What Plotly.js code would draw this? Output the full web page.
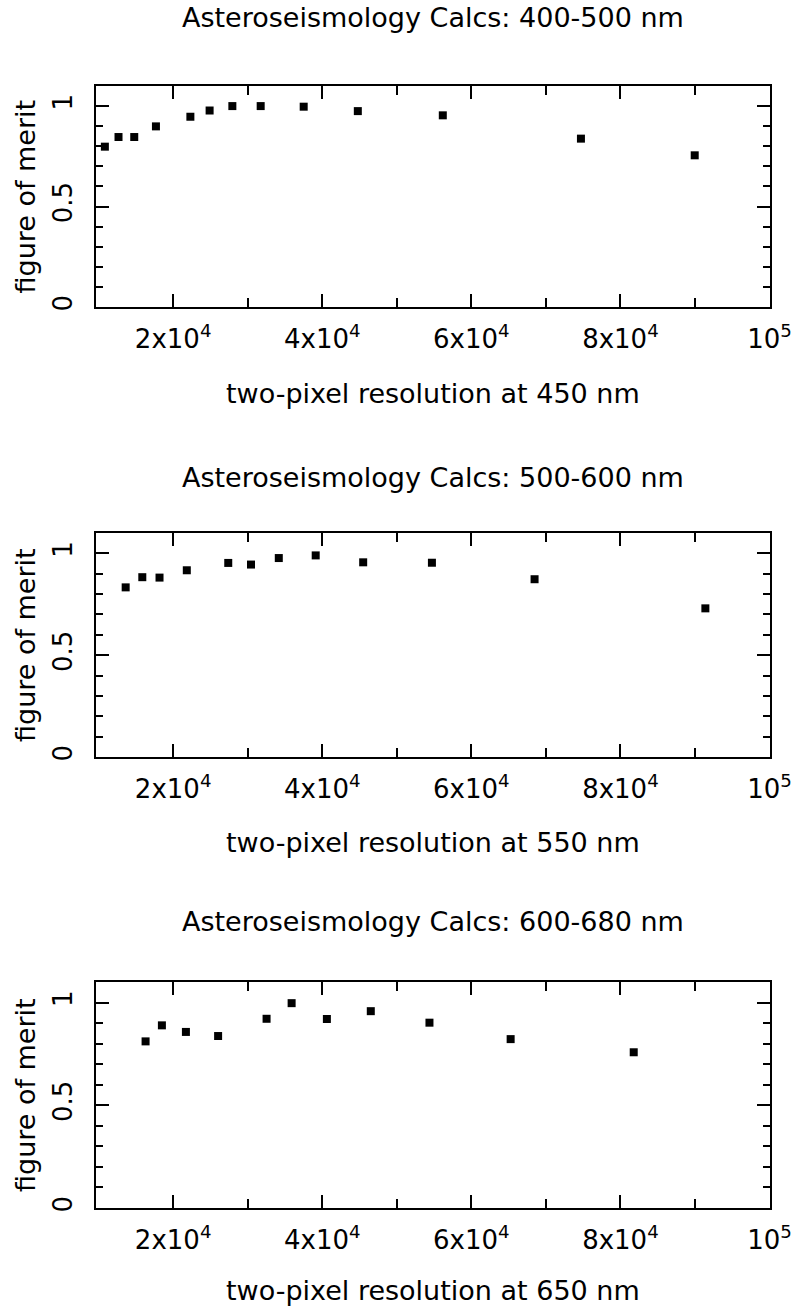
<!DOCTYPE html>
<html>
<head>
<meta charset="utf-8">
<script src="https://cdn.plot.ly/plotly-3.0.1.min.js"></script>
<style>html,body{margin:0;padding:0;background:#fff;}#chart{width:792px;height:1306px;}</style>
</head>
<body>
<div id="chart"></div>
<script>
// ---- data ----
const panelTitles = ["Asteroseismology Calcs: 400-500 nm", "Asteroseismology Calcs: 500-600 nm", "Asteroseismology Calcs: 600-680 nm"];
const xTitles = ["two-pixel resolution at 450 nm", "two-pixel resolution at 550 nm", "two-pixel resolution at 650 nm"];
const yTitle = "figure of merit";

const res450 = [10840, 12670, 14780, 17690, 22310, 24890, 27940, 31740, 37510, 44770, 56170, 74700, 89960];
const fom450 = [0.798, 0.846, 0.846, 0.899, 0.947, 0.978, 1.0, 1.0, 0.997, 0.975, 0.954, 0.838, 0.755];

const res550 = [13630, 15860, 18170, 21830, 27390, 30440, 34170, 39120, 45490, 54710, 68480, 91390];
const fom550 = [0.833, 0.883, 0.881, 0.917, 0.953, 0.945, 0.977, 0.990, 0.956, 0.954, 0.873, 0.730];

const res650 = [16300, 18490, 21710, 26030, 32530, 35890, 40620, 46510, 54380, 65270, 81780];
const fom650 = [0.811, 0.889, 0.857, 0.837, 0.921, 0.997, 0.920, 0.958, 0.902, 0.822, 0.758];

const xTickVals = [20000, 40000, 60000, 80000, 100000];
const xTickText = ["2x10<sup>4</sup>", "4x10<sup>4</sup>", "6x10<sup>4</sup>", "8x10<sup>4</sup>", "10<sup>5</sup>"];
const xMinorVals = [30000, 50000, 70000, 90000];
const yTickVals = [0, 0.5, 1];
const yTickText = ["0", "0.5", "1"];
const yMinorVals = [0.1, 0.2, 0.3, 0.4, 0.6, 0.7, 0.8, 0.9];

// ---- layout geometry (pixels) ----
const W = 792, H = 1306;
const FONT = "DejaVu Sans";
const plotLeft = 96, plotRight = 770;
const panels = [
  {top: 86, bottom: 307, title: 18, xt: 393},
  {top: 533, bottom: 757, title: 477, xt: 843},
  {top: 982, bottom: 1208, title: 921, xt: 1290}
];
const series = [[res450, fom450], [res550, fom550], [res650, fom650]];

const traces = [];
const layout = {
  width: W, height: H,
  margin: {l: 0, r: 0, t: 0, b: 0},
  paper_bgcolor: "#fff", plot_bgcolor: "#fff",
  showlegend: false,
  font: {family: FONT, color: "#000", size: 26},
  annotations: []
};

const px2x = p => p / W;
const px2y = p => 1 - p / H;
const cx = px2x((plotLeft + plotRight) / 2);

panels.forEach((p, i) => {
  const n = i === 0 ? "" : String(i + 1);
  traces.push({
    type: "scatter", mode: "markers",
    x: series[i][0], y: series[i][1],
    xaxis: "x" + n, yaxis: "y" + n,
    marker: {symbol: "square", size: 8, color: "#000"},
    hoverinfo: "x+y"
  });
  layout["xaxis" + n] = {
    domain: [px2x(plotLeft), px2x(plotRight)],
    anchor: "y" + n,
    range: [9650, 100060],
    showgrid: false, zeroline: false,
    showline: true, linecolor: "#000", linewidth: 2,
    mirror: "ticks",
    ticks: "inside", ticklen: 13, tickwidth: 2, tickcolor: "#000",
    tickmode: "array", tickvals: xTickVals, ticktext: xTickText,
    tickfont: {family: FONT, size: 26, color: "#000"},
    ticklabelstandoff: 8,
    minor: {tickmode: "array", tickvals: xMinorVals, ticks: "inside", ticklen: 9, tickwidth: 2, tickcolor: "#000", showgrid: false}
  };
  layout["yaxis" + n] = {
    domain: [px2y(p.bottom), px2y(p.top)],
    anchor: "x" + n,
    range: [0, 1.1],
    showgrid: false, zeroline: false,
    showline: true, linecolor: "#000", linewidth: 2,
    mirror: "ticks",
    ticks: "inside", ticklen: 13, tickwidth: 2, tickcolor: "#000",
    tickmode: "array", tickvals: yTickVals, ticktext: yTickText,
    tickangle: -90,
    tickfont: {family: FONT, size: 26, color: "#000"},
    ticklabelstandoff: 12,
    minor: {tickmode: "array", tickvals: yMinorVals, ticks: "inside", ticklen: 7, tickwidth: 2, tickcolor: "#000", showgrid: false}
  };
  layout.annotations.push({
    xref: "paper", yref: "paper", x: cx, y: px2y(p.title),
    xanchor: "center", yanchor: "middle", showarrow: false,
    text: panelTitles[i], font: {family: FONT, size: 27, color: "#000"}
  });
  layout.annotations.push({
    xref: "paper", yref: "paper", x: cx, y: px2y(p.xt),
    xanchor: "center", yanchor: "middle", showarrow: false,
    text: xTitles[i], font: {family: FONT, size: 27, color: "#000"}
  });
  layout.annotations.push({
    xref: "paper", yref: "paper", x: px2x(25), y: px2y((p.top + p.bottom) / 2),
    xanchor: "center", yanchor: "middle", showarrow: false, textangle: -90,
    text: yTitle, font: {family: FONT, size: 27, color: "#000"}
  });
});

Plotly.newPlot("chart", traces, layout, {staticPlot: true, displayModeBar: false});
</script>
</body>
</html>
